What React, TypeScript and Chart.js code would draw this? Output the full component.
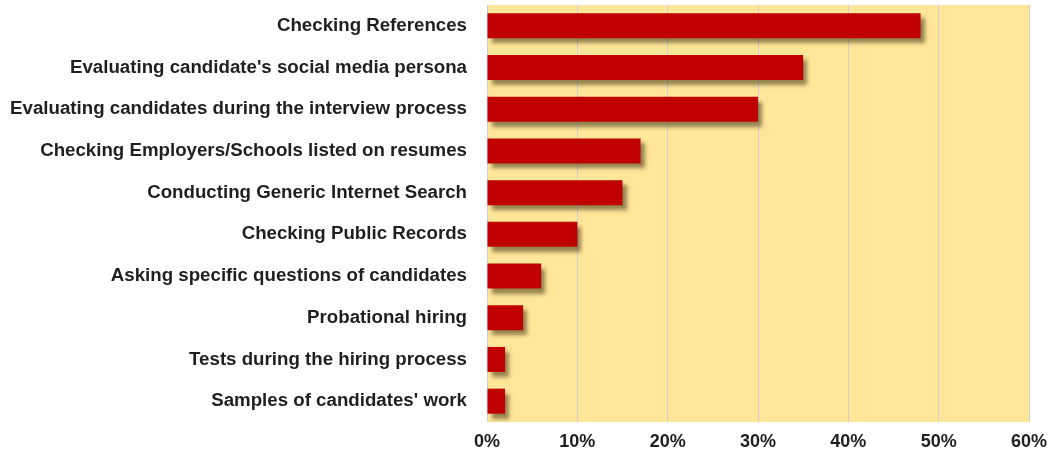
import React, { useEffect, useRef } from "react";
import { Chart, registerables } from "chart.js";

Chart.register(...registerables);

const categories = [
  "Checking References",
  "Evaluating candidate's social media persona",
  "Evaluating candidates during the interview process",
  "Checking Employers/Schools listed on resumes",
  "Conducting Generic Internet Search",
  "Checking Public Records",
  "Asking specific questions of candidates",
  "Probational hiring",
  "Tests during the hiring process",
  "Samples of candidates' work",
];

const values = [48, 35, 30, 17, 15, 10, 6, 4, 2, 2];

const xTicks = [0, 10, 20, 30, 40, 50, 60];

const plotBg = {
  id: "plotBg",
  beforeDraw(chart: any) {
    const { ctx, chartArea } = chart;
    ctx.save();
    ctx.fillStyle = "#FFE699";
    ctx.fillRect(chartArea.left, chartArea.top, chartArea.right - chartArea.left, chartArea.bottom - chartArea.top);
    ctx.restore();
  },
};

const barShadow = {
  id: "barShadow",
  beforeDatasetsDraw(chart: any) {
    const ctx = chart.ctx;
    ctx.save();
    ctx.shadowColor = "rgba(60,50,20,0.55)";
    ctx.shadowOffsetX = 4;
    ctx.shadowOffsetY = 5;
    ctx.shadowBlur = 4;
  },
  afterDatasetsDraw(chart: any) {
    chart.ctx.restore();
  },
};

export default function App() {
  const ref = useRef<HTMLCanvasElement>(null);
  useEffect(() => {
    if (!ref.current) return;
    const chart = new Chart(ref.current, {
      type: "bar",
      data: {
        labels: categories,
        datasets: [
          {
            data: values,
            backgroundColor: "#C00000",
            borderWidth: 0,
            categoryPercentage: 1,
            barPercentage: 0.6,
          },
        ],
      },
      options: {
        indexAxis: "y",
        animation: false,
        responsive: false,
        maintainAspectRatio: false,
        layout: { padding: { left: 0, right: 22, top: 5, bottom: 0 } },
        plugins: { legend: { display: false }, tooltip: { enabled: false } },
        scales: {
          x: {
            min: 0,
            max: 60,
            afterBuildTicks(axis: any) {
              axis.ticks = xTicks.map((v) => ({ value: v }));
            },
            afterFit(axis: any) {
              axis.paddingLeft = 0;
              axis.paddingRight = 0;
              axis.height = 37;
            },
            grid: { color: "#D0D0D0", lineWidth: 1, drawTicks: false },
            border: { display: false },
            ticks: {
              padding: 9,
              color: "#1F1F1F",
              font: { family: "Liberation Sans", size: 18, weight: "bold" },
              callback: (v: any) => v + "%",
            },
          },
          y: {
            afterFit(axis: any) {
              axis.paddingTop = 0;
              axis.paddingBottom = 0;
              axis.width = 487;
            },
            grid: { display: false, drawTicks: false },
            border: { display: false },
            ticks: {
              padding: 20,
              color: "#1F1F1F",
              font: { family: "Liberation Sans", size: 18.7, weight: "bold" },
            },
          },
        },
      },
      plugins: [plotBg, barShadow],
    });
    return () => chart.destroy();
  }, []);
  return (
    <div style={{ position: "fixed", left: 0, top: 0, width: 1051, height: 459, background: "#fff" }}>
      <canvas ref={ref} width={1051} height={459} />
    </div>
  );
}
